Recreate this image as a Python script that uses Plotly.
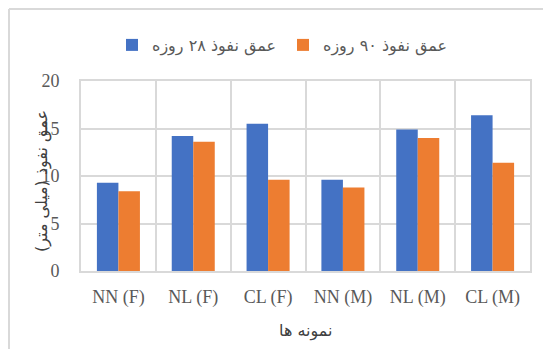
import plotly.graph_objects as go

# Samples and penetration depths (mm)
samples = ["NN (F)", "NL (F)", "CL (F)", "NN (M)", "NL (M)", "CL (M)"]
depth_28 = [9.3, 14.2, 15.5, 9.6, 14.9, 16.4]
depth_90 = [8.4, 13.6, 9.6, 8.8, 14.0, 11.4]
y_ticks = [0, 5, 10, 15, 20]

series_names = ["عمق نفوذ ۲۸ روزه", "عمق نفوذ ۹۰ روزه"]
x_title = "نمونه ها"
y_title = "عمق نفوذ (میلی متر)"

BLUE = "#4472C4"
ORANGE = "#ED7D31"
GRID = "#d9d9d9"
TEXT = "#595959"
SERIF = "Liberation Serif, Times New Roman, serif"
FA = "DejaVu Sans, sans-serif"

W, H = 543, 349
L, R, T, B = 81, 13, 81, 78

fig = go.Figure()
fig.add_trace(go.Bar(x=samples, y=depth_28, name=series_names[0],
                     marker=dict(color=BLUE, line=dict(width=0))))
fig.add_trace(go.Bar(x=samples, y=depth_90, name=series_names[1],
                     marker=dict(color=ORANGE, line=dict(width=0))))

pw = W - L - R
ph = H - T - B


def px_x(p):
    return (p - L) / pw


def px_y(p):
    return (H - B - p) / ph


fig.update_layout(
    width=W, height=H,
    margin=dict(l=L, r=R, t=T, b=B),
    paper_bgcolor="white", plot_bgcolor="white",
    barmode="group", bargap=0.425, bargroupgap=0,
    showlegend=True,
    legend=dict(orientation="h", x=px_x(112), xanchor="left",
                y=px_y(45), yanchor="middle",
                font=dict(family=FA, size=16, color=TEXT),
                itemwidth=30, entrywidth=126, entrywidthmode="pixels",
                traceorder="normal"),
    xaxis=dict(type="category", tickson="boundaries",
               showgrid=True, gridcolor=GRID, gridwidth=2,
               showline=True, linecolor=GRID, linewidth=2, mirror=True,
               ticks="", ticklabelstandoff=8,
               tickfont=dict(family=SERIF, size=18, color=TEXT)),
    yaxis=dict(range=[0, 20], tickvals=y_ticks,
               showgrid=True, gridcolor=GRID, gridwidth=2,
               showline=True, linecolor=GRID, linewidth=2, mirror=True,
               zeroline=False, ticks="", ticklabelstandoff=16,
               tickfont=dict(family=SERIF, size=18, color=TEXT)),
    font=dict(family=SERIF, color=TEXT),
)

# Axis titles
fig.add_annotation(text=x_title, xref="paper", yref="paper",
                   x=0.5, y=px_y(331), showarrow=False,
                   xanchor="center", yanchor="middle",
                   font=dict(family=FA, size=16, color="#404040"))
fig.add_annotation(text=y_title, xref="paper", yref="paper",
                   x=px_x(42), y=px_y(181), showarrow=False, textangle=-90,
                   xanchor="center", yanchor="middle",
                   font=dict(family=FA, size=16, color="#404040"))

# Chart frame (left and top edges)
fig.add_shape(type="line", xref="paper", yref="paper",
              x0=px_x(9), x1=px_x(9), y0=px_y(9), y1=px_y(360),
              line=dict(color=GRID, width=2))
fig.add_shape(type="line", xref="paper", yref="paper",
              x0=px_x(9), x1=px_x(560), y0=px_y(9), y1=px_y(9),
              line=dict(color=GRID, width=2))

fig.write_html("out.html")
